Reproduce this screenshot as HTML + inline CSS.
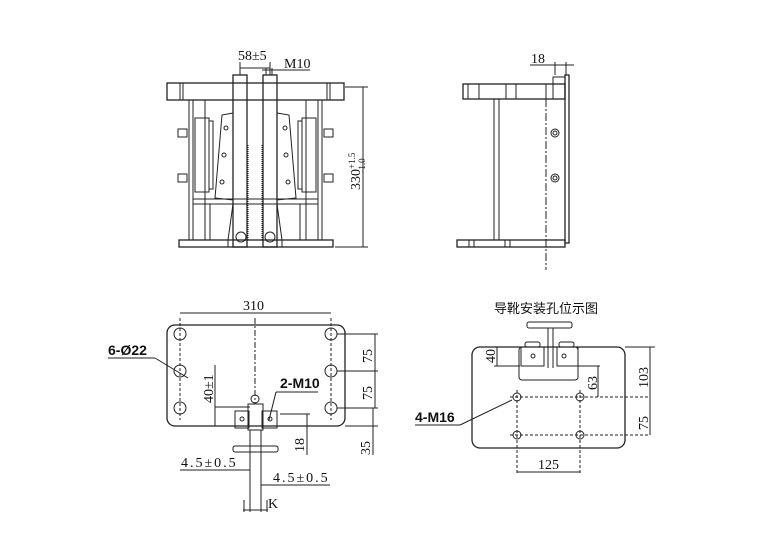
<!DOCTYPE html>
<html><head><meta charset="utf-8"><style>
html,body{margin:0;padding:0;background:#fff}
svg{display:block}
text{font-family:"Liberation Serif","Noto Serif CJK SC",serif;font-size:14px;fill:#111}
.w{letter-spacing:2px}
.s{font-family:"Liberation Sans","Noto Sans CJK SC",sans-serif;font-weight:bold;font-size:14px}
</style></head><body>
<svg width="772" height="546" viewBox="0 0 772 546" xmlns="http://www.w3.org/2000/svg">
<g fill="none" stroke="#222" stroke-width="1">
<!-- FRONT VIEW -->
<rect x="167" y="83" width="177" height="17" stroke-width="1.3"/>
<line x1="180" y1="83" x2="180" y2="100"/><line x1="183" y1="83" x2="183" y2="100"/>
<line x1="327" y1="83" x2="327" y2="100"/><line x1="330" y1="83" x2="330" y2="100"/>
<rect x="179" y="240" width="154" height="7" stroke-width="1.3"/>
<rect x="189" y="100" width="4" height="140"/><rect x="318" y="100" width="4" height="140"/>
<line x1="205" y1="100" x2="205" y2="240"/><line x1="306" y1="100" x2="306" y2="240"/>
<line x1="193" y1="199" x2="318" y2="199"/><line x1="193" y1="204" x2="318" y2="204"/>
<line x1="210" y1="204" x2="210" y2="240"/><line x1="300" y1="204" x2="300" y2="240"/>
<rect x="195" y="118" width="14" height="74"/><rect x="302" y="118" width="14" height="74"/>
<rect x="209" y="121" width="4" height="68"/><rect x="298" y="121" width="4" height="68"/>
<polygon points="215,198 222,115 233,113 233,200"/>
<polygon points="296,198 289,115 277,113 277,200"/>
<circle cx="226" cy="128" r="2"/><circle cx="224" cy="155" r="2"/><circle cx="222" cy="182" r="2"/>
<circle cx="285" cy="128" r="2"/><circle cx="286" cy="155" r="2"/><circle cx="288" cy="182" r="2"/>
<rect x="233" y="75" width="14" height="172" stroke-width="1.3"/>
<rect x="263" y="75" width="14" height="172" stroke-width="1.3"/>
<line x1="248" y1="145" x2="248" y2="240" stroke-dasharray="1,1"/>
<line x1="262" y1="145" x2="262" y2="240" stroke-dasharray="1,1"/>
<polygon points="228,240 233,204 233,247 228,247"/><polygon points="282,240 277,204 277,247 282,247"/>
<circle cx="241" cy="237" r="5"/><circle cx="270" cy="237" r="5"/>
<rect x="178" y="129" width="9" height="8"/><rect x="178" y="174" width="9" height="8"/>
<rect x="324" y="129" width="9" height="8"/><rect x="324" y="174" width="9" height="8"/>
<line x1="240" y1="62" x2="240" y2="75"/><line x1="270" y1="62" x2="270" y2="75"/>
<line x1="240" y1="68" x2="270" y2="68"/>
<line x1="262" y1="70" x2="310" y2="70"/><line x1="266" y1="68" x2="266" y2="75"/><line x1="272" y1="68" x2="272" y2="75"/>
<line x1="345" y1="87" x2="368" y2="87"/><line x1="335" y1="247" x2="368" y2="247"/>
<line x1="363" y1="87" x2="363" y2="247"/>
<!-- SIDE VIEW -->
<rect x="463" y="84" width="102" height="15" stroke-width="1.3"/>
<line x1="468" y1="84" x2="468" y2="99"/><line x1="479" y1="84" x2="479" y2="99"/>
<line x1="506" y1="84" x2="506" y2="99"/><line x1="516" y1="84" x2="516" y2="99"/>
<line x1="546" y1="84" x2="546" y2="99"/><line x1="553" y1="84" x2="553" y2="99"/>
<rect x="553" y="77" width="12" height="7"/>
<rect x="565" y="75" width="4" height="168" stroke-width="1.3"/>
<rect x="457" y="240" width="108" height="7" stroke-width="1.3"/>
<line x1="469" y1="240" x2="469" y2="247"/><line x1="474" y1="240" x2="474" y2="247"/>
<line x1="505" y1="240" x2="505" y2="247"/><line x1="510" y1="240" x2="510" y2="247"/>
<rect x="494" y="99" width="5" height="141"/>
<line x1="546" y1="99" x2="546" y2="270" stroke-dasharray="8,2,2,2"/>
<circle cx="555" cy="133" r="4"/><circle cx="555" cy="133" r="2"/>
<circle cx="555" cy="178" r="4"/><circle cx="555" cy="178" r="2"/>
<line x1="530" y1="65" x2="574" y2="65"/><line x1="555" y1="62" x2="555" y2="75"/><line x1="566" y1="62" x2="566" y2="75"/>
<!-- BOTTOM LEFT -->
<rect x="167" y="325" width="178" height="101" rx="8" stroke-width="1.3"/>
<circle cx="180" cy="334" r="6"/><circle cx="180" cy="371" r="6"/><circle cx="180" cy="408" r="6"/>
<circle cx="331" cy="334" r="6"/><circle cx="331" cy="371" r="6"/><circle cx="331" cy="408" r="6"/>
<line x1="180" y1="318" x2="180" y2="420" stroke-dasharray="3,2"/><line x1="331" y1="318" x2="331" y2="420" stroke-dasharray="3,2"/>
<line x1="180" y1="313" x2="331" y2="313"/>
<line x1="255" y1="318" x2="255" y2="404" stroke-dasharray="6,2,2,2"/>
<circle cx="255" cy="399" r="4"/>
<rect x="248" y="404" width="15" height="26"/>
<rect x="235" y="411" width="14" height="17"/><rect x="262" y="411" width="15" height="17"/>
<circle cx="242" cy="419" r="2"/><circle cx="270" cy="419" r="2"/>
<rect x="233" y="446" width="45" height="6" rx="2"/>
<line x1="250" y1="430" x2="250" y2="512"/><line x1="261" y1="430" x2="261" y2="512"/>
<line x1="244" y1="500" x2="244" y2="512"/><line x1="267" y1="500" x2="267" y2="512"/>
<line x1="180" y1="470" x2="250" y2="470"/><line x1="261" y1="485" x2="330" y2="485"/>
<line x1="243" y1="510" x2="268" y2="510"/>
<line x1="215" y1="365" x2="215" y2="426"/><line x1="215" y1="407" x2="250" y2="407"/>
<line x1="337" y1="334" x2="378" y2="334"/><line x1="337" y1="371" x2="378" y2="371"/><line x1="337" y1="408" x2="378" y2="408"/>
<line x1="375" y1="334" x2="375" y2="408"/>
<line x1="373" y1="408" x2="373" y2="455"/><line x1="345" y1="426" x2="378" y2="426"/>
<line x1="280" y1="414" x2="310" y2="414"/><line x1="307" y1="414" x2="307" y2="455"/>
<line x1="108" y1="358" x2="155" y2="358"/><line x1="155" y1="358" x2="188" y2="378"/>
<line x1="318" y1="392" x2="276" y2="392"/><line x1="276" y1="392" x2="269" y2="420"/>
<!-- BOTTOM RIGHT -->
<rect x="472" y="347" width="153" height="101" rx="8" stroke-width="1.3"/>
<rect x="519" y="347" width="59" height="33" rx="3"/>
<rect x="521" y="347" width="23" height="19"/><rect x="557" y="347" width="21" height="19"/>
<circle cx="533" cy="356" r="2"/><circle cx="564" cy="356" r="2"/>
<rect x="525" y="342" width="15" height="5" rx="2"/><rect x="559" y="342" width="15" height="5" rx="2"/>
<line x1="548" y1="328" x2="548" y2="368"/><line x1="553" y1="328" x2="553" y2="368"/>
<rect x="527" y="322" width="45" height="6" rx="2"/>
<circle cx="517" cy="397" r="4"/><circle cx="580" cy="397" r="4"/>
<circle cx="517" cy="435" r="4"/><circle cx="580" cy="435" r="4"/>
<line x1="510" y1="397" x2="650" y2="397" stroke-dasharray="3,2"/><line x1="510" y1="435" x2="650" y2="435" stroke-dasharray="3,2"/>
<line x1="517" y1="390" x2="517" y2="475" stroke-dasharray="3,2"/><line x1="580" y1="390" x2="580" y2="475" stroke-dasharray="3,2"/>
<line x1="517" y1="472" x2="580" y2="472"/>
<line x1="625" y1="347" x2="655" y2="347"/><line x1="650" y1="347" x2="650" y2="435"/>
<line x1="578" y1="366" x2="600" y2="366"/><line x1="598" y1="366" x2="598" y2="397"/>
<line x1="497" y1="347" x2="497" y2="366"/><line x1="494" y1="366" x2="520" y2="366"/>
<line x1="460" y1="425" x2="512" y2="400"/><line x1="415" y1="425" x2="460" y2="425"/>
</g>
<text x="238" y="60">58±5</text>
<text x="284" y="68">M10</text>
<text transform="translate(360,190) rotate(-90)">330<tspan font-size="9" dy="-5">+1.5</tspan><tspan font-size="9" dx="-20" dy="10">-1.0</tspan></text>
<text x="531" y="63">18</text>
<text x="243" y="310">310</text>
<text class="s" x="108" y="355">6-Ø22</text>
<text transform="translate(213,403) rotate(-90)">40±1</text>
<text class="s" x="280" y="388">2-M10</text>
<text transform="translate(372,363) rotate(-90)">75</text>
<text transform="translate(372,400) rotate(-90)">75</text>
<text transform="translate(370,455) rotate(-90)">35</text>
<text transform="translate(304,452) rotate(-90)">18</text>
<text class="w" x="181" y="467">4.5±0.5</text>
<text class="w" x="273" y="482">4.5±0.5</text>
<text x="268" y="508">K</text>
<text x="494" y="313" style="font-family:'Liberation Sans','Noto Sans CJK SC',sans-serif;font-size:13px">导靴安装孔位示图</text>
<text transform="translate(495,363) rotate(-90)">40</text>
<text transform="translate(597,390) rotate(-90)">63</text>
<text transform="translate(648,388) rotate(-90)">103</text>
<text transform="translate(648,430) rotate(-90)">75</text>
<text x="538" y="469">125</text>
<text class="s" x="415" y="422">4-M16</text>
</svg>
</body></html>
